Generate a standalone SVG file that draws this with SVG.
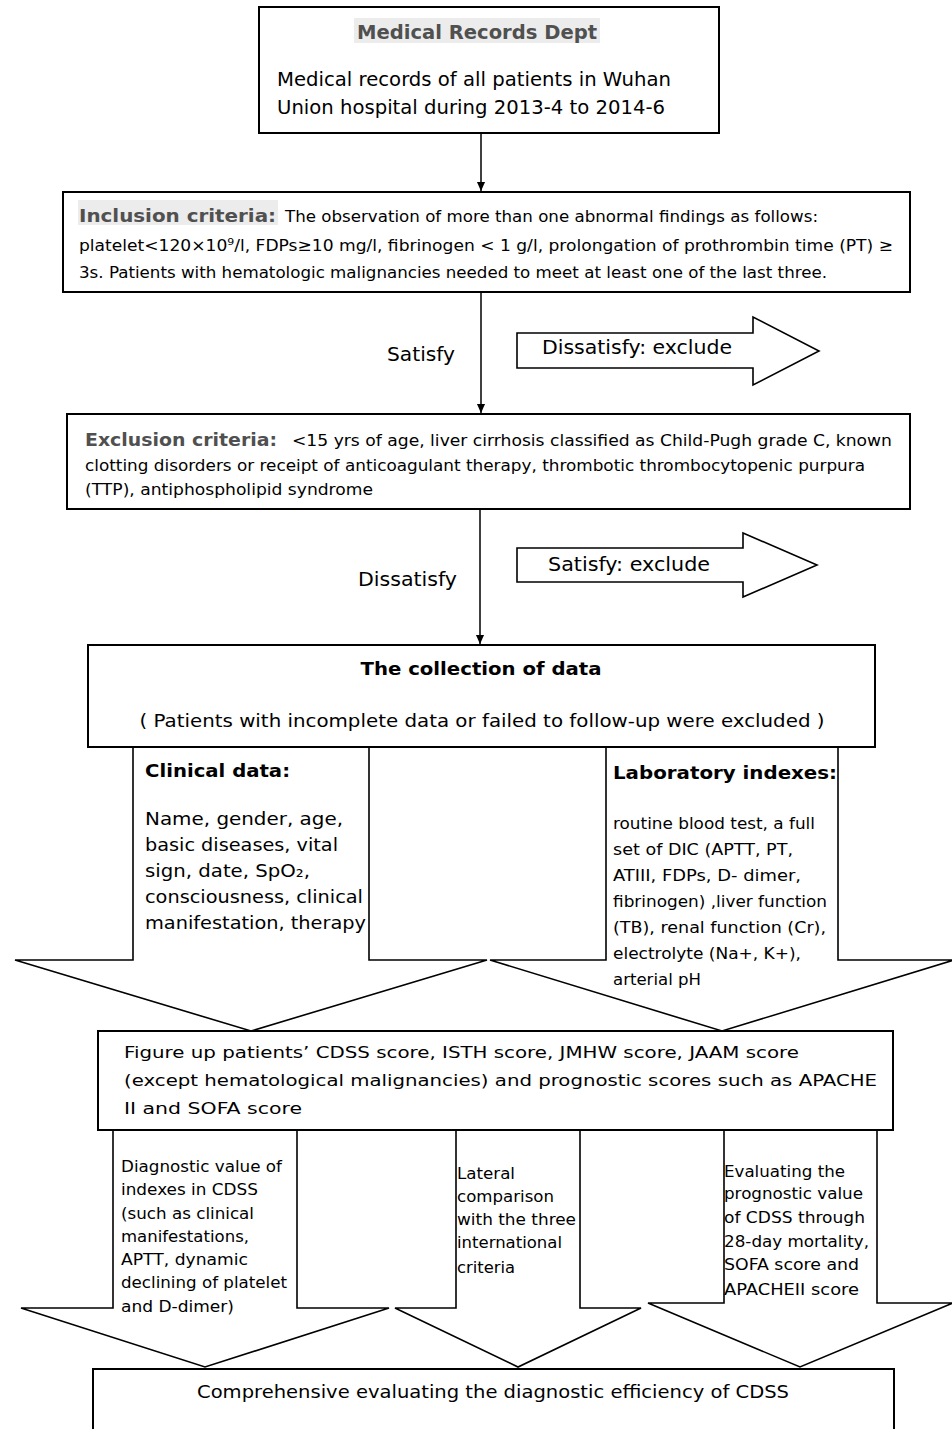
<svg xmlns="http://www.w3.org/2000/svg" width="952" height="1429" viewBox="0 0 952 1429">
<defs>
<marker id="ah" viewBox="0 0 10 10" refX="10" refY="5" markerWidth="9" markerHeight="10" markerUnits="userSpaceOnUse" orient="auto"><path d="M0,0.5 L10,5 L0,9.5 z" fill="#000"/></marker>
<style>
text{font-family:"DejaVu Sans",Verdana,sans-serif;fill:#000}
.box{fill:#fff;stroke:#000;stroke-width:2}
.blk{fill:#fff;stroke:#000;stroke-width:1.6;stroke-linejoin:miter}
.conn{stroke:#000;stroke-width:1.5;fill:none}
.hd{font-weight:bold;fill:#505050}
.hl{fill:#ececec}
.b{font-weight:bold}
.t19{font-size:19.5px}
.t16{font-size:16.5px}
.t15{font-size:15.5px}
</style>
</defs>
<rect width="952" height="1429" fill="#fff"/>

<g id="connectors">
<line class="conn" x1="481" y1="133" x2="481" y2="191" marker-end="url(#ah)"/>
<line class="conn" x1="481" y1="292" x2="481" y2="413" marker-end="url(#ah)"/>
<line class="conn" x1="480" y1="509" x2="480" y2="644" marker-end="url(#ah)"/>
</g>

<g id="records">
<rect class="box" x="259" y="7" width="460" height="126"/>
<rect class="hl" x="354" y="18" width="246" height="25"/>
<text class="hd" x="477" y="39" text-anchor="middle" font-size="19" textLength="240" lengthAdjust="spacingAndGlyphs">Medical Records Dept</text>
<text class="t19" x="277" y="86" textLength="394" lengthAdjust="spacingAndGlyphs">Medical records of all patients in Wuhan</text>
<text class="t19" x="277" y="114" textLength="388" lengthAdjust="spacingAndGlyphs">Union hospital during 2013-4 to 2014-6</text>
</g>

<g id="inclusion">
<rect class="box" x="63" y="192" width="847" height="100"/>
<rect class="hl" x="78" y="200" width="200" height="25"/>
<text class="hd" x="79" y="222" font-size="18" textLength="197" lengthAdjust="spacingAndGlyphs">Inclusion criteria:</text>
<text class="t16" x="285" y="222" textLength="533" lengthAdjust="spacingAndGlyphs">The observation of more than one abnormal findings as follows:</text>
<text class="t16" x="79" y="251" textLength="814" lengthAdjust="spacingAndGlyphs">platelet&lt;120×10⁹/l, FDPs≥10 mg/l, fibrinogen &lt; 1 g/l, prolongation of prothrombin time (PT) ≥</text>
<text class="t16" x="79" y="278" textLength="748" lengthAdjust="spacingAndGlyphs">3s. Patients with hematologic malignancies needed to meet at least one of the last three.</text>
</g>

<g id="satisfy-label">
<text x="387" y="361" font-size="19" textLength="68" lengthAdjust="spacingAndGlyphs">Satisfy</text>
</g>

<g id="dissatisfy-exclude">
<polygon class="blk" points="517,333 753,333 753,317 819,351 753,385 753,368 517,368"/>
<text x="542" y="354" font-size="19.5" textLength="190" lengthAdjust="spacingAndGlyphs">Dissatisfy: exclude</text>
</g>

<g id="exclusion">
<rect class="box" x="67" y="414" width="843" height="95"/>
<text class="hd" x="85" y="446" font-size="18" textLength="192" lengthAdjust="spacingAndGlyphs">Exclusion criteria:</text>
<text class="t16" x="292" y="446" textLength="600" lengthAdjust="spacingAndGlyphs">&lt;15 yrs of age, liver cirrhosis classified as Child-Pugh grade C, known</text>
<text class="t16" x="85" y="471" textLength="780" lengthAdjust="spacingAndGlyphs">clotting disorders or receipt of anticoagulant therapy, thrombotic thrombocytopenic purpura</text>
<text class="t16" x="85" y="495" textLength="288" lengthAdjust="spacingAndGlyphs">(TTP), antiphospholipid syndrome</text>
</g>

<g id="dissatisfy-label">
<text x="358" y="586" font-size="19" textLength="99" lengthAdjust="spacingAndGlyphs">Dissatisfy</text>
</g>

<g id="satisfy-exclude">
<polygon class="blk" points="517,548 743,548 743,533 817,565 743,597 743,582 517,582"/>
<text x="548" y="571" font-size="19.5" textLength="162" lengthAdjust="spacingAndGlyphs">Satisfy: exclude</text>
</g>

<g id="clinical">
<polygon class="blk" points="133,747 369,747 369,960 487,960 251,1031 15,960 133,960"/>
<text class="b" x="145" y="777" font-size="18.5" textLength="145" lengthAdjust="spacingAndGlyphs">Clinical data:</text>
<text x="145" y="825" font-size="18.5" textLength="198" lengthAdjust="spacingAndGlyphs">Name, gender, age,</text>
<text x="145" y="851" font-size="18.5" textLength="193" lengthAdjust="spacingAndGlyphs">basic diseases, vital</text>
<text x="145" y="877" font-size="18.5" textLength="165" lengthAdjust="spacingAndGlyphs">sign, date, SpO₂,</text>
<text x="145" y="903" font-size="18.5" textLength="218" lengthAdjust="spacingAndGlyphs">consciousness, clinical</text>
<text x="145" y="929" font-size="18.5" textLength="221" lengthAdjust="spacingAndGlyphs">manifestation, therapy</text>
</g>

<g id="laboratory">
<polygon class="blk" points="606,747 838,747 838,960 954,960 722,1031 490,960 606,960"/>
<text class="b" x="613" y="779" font-size="18.5" textLength="224" lengthAdjust="spacingAndGlyphs">Laboratory indexes:</text>
<text x="613" y="829" font-size="16.5" textLength="202" lengthAdjust="spacingAndGlyphs">routine blood test, a full</text>
<text x="613" y="855" font-size="16.5" textLength="180" lengthAdjust="spacingAndGlyphs">set of DIC (APTT, PT,</text>
<text x="613" y="881" font-size="16.5" textLength="188" lengthAdjust="spacingAndGlyphs">ATIII, FDPs, D- dimer,</text>
<text x="613" y="907" font-size="16.5" textLength="214" lengthAdjust="spacingAndGlyphs">fibrinogen) ,liver function</text>
<text x="613" y="933" font-size="16.5" textLength="213" lengthAdjust="spacingAndGlyphs">(TB), renal function (Cr),</text>
<text x="613" y="959" font-size="16.5" textLength="188" lengthAdjust="spacingAndGlyphs">electrolyte (Na+, K+),</text>
<text x="613" y="985" font-size="16.5" textLength="88" lengthAdjust="spacingAndGlyphs">arterial pH</text>
</g>

<g id="collection">
<rect class="box" x="88" y="645" width="787" height="102"/>
<text class="b" x="481" y="675" text-anchor="middle" font-size="17" textLength="241" lengthAdjust="spacingAndGlyphs">The collection of data</text>
<text x="482" y="727" text-anchor="middle" font-size="18" textLength="685" lengthAdjust="spacingAndGlyphs">( Patients with incomplete data or failed to follow-up were excluded )</text>
</g>

<g id="diagnostic-value">
<polygon class="blk" points="113,1130 297,1130 297,1308 389,1308 205,1367 21,1308 113,1308"/>
<text class="t15" x="121" y="1172" textLength="161" lengthAdjust="spacingAndGlyphs">Diagnostic value of</text>
<text class="t15" x="121" y="1195" textLength="137" lengthAdjust="spacingAndGlyphs">indexes in CDSS</text>
<text class="t15" x="121" y="1219" textLength="133" lengthAdjust="spacingAndGlyphs">(such as clinical</text>
<text class="t15" x="121" y="1242" textLength="128" lengthAdjust="spacingAndGlyphs">manifestations,</text>
<text class="t15" x="121" y="1265" textLength="127" lengthAdjust="spacingAndGlyphs">APTT, dynamic</text>
<text class="t15" x="121" y="1288" textLength="166" lengthAdjust="spacingAndGlyphs">declining of platelet</text>
<text class="t15" x="121" y="1312" textLength="113" lengthAdjust="spacingAndGlyphs">and D-dimer)</text>
</g>

<g id="lateral-comparison">
<polygon class="blk" points="456,1130 580,1130 580,1308 641,1308 518,1367 395,1308 456,1308"/>
<text class="t15" x="457" y="1179" textLength="58" lengthAdjust="spacingAndGlyphs">Lateral</text>
<text class="t15" x="457" y="1202" textLength="97" lengthAdjust="spacingAndGlyphs">comparison</text>
<text class="t15" x="457" y="1225" textLength="119" lengthAdjust="spacingAndGlyphs">with the three</text>
<text class="t15" x="457" y="1248" textLength="105" lengthAdjust="spacingAndGlyphs">international</text>
<text class="t15" x="457" y="1273" textLength="58" lengthAdjust="spacingAndGlyphs">criteria</text>
</g>

<g id="prognostic-value">
<polygon class="blk" points="724,1130 877,1130 877,1303 953,1303 800,1367 648,1303 724,1303"/>
<text class="t15" x="724" y="1177" textLength="121" lengthAdjust="spacingAndGlyphs">Evaluating the</text>
<text class="t15" x="724" y="1199" textLength="139" lengthAdjust="spacingAndGlyphs">prognostic value</text>
<text class="t15" x="724" y="1223" textLength="141" lengthAdjust="spacingAndGlyphs">of CDSS through</text>
<text class="t15" x="724" y="1247" textLength="145" lengthAdjust="spacingAndGlyphs">28-day mortality,</text>
<text class="t15" x="724" y="1270" textLength="135" lengthAdjust="spacingAndGlyphs">SOFA score and</text>
<text class="t15" x="724" y="1295" textLength="135" lengthAdjust="spacingAndGlyphs">APACHEII score</text>
</g>

<g id="scores">
<rect class="box" x="98" y="1031" width="795" height="99"/>
<text class="t16" x="124" y="1058" font-size="17.5" textLength="675" lengthAdjust="spacingAndGlyphs">Figure up patients’ CDSS score, ISTH score, JMHW score, JAAM score</text>
<text class="t16" x="124" y="1086" font-size="17.5" textLength="753" lengthAdjust="spacingAndGlyphs">(except hematological malignancies) and prognostic scores such as APACHE</text>
<text class="t16" x="124" y="1114" font-size="17.5" textLength="178" lengthAdjust="spacingAndGlyphs">II and SOFA score</text>
</g>

<g id="comprehensive">
<rect class="box" x="93" y="1369" width="801" height="90"/>
<text x="493" y="1398" text-anchor="middle" font-size="17" textLength="592" lengthAdjust="spacingAndGlyphs">Comprehensive evaluating the diagnostic efficiency of CDSS</text>
</g>
</svg>
